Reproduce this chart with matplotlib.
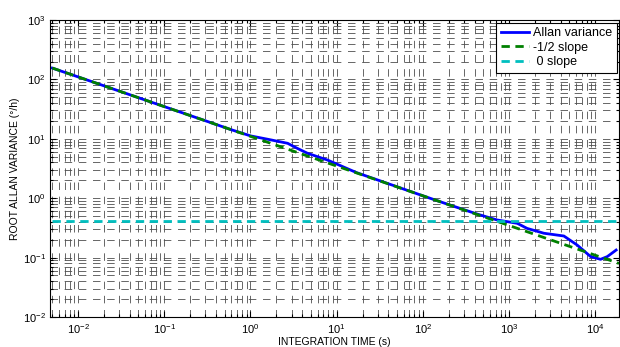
import numpy as np
import matplotlib
matplotlib.use("Agg")
import matplotlib.pyplot as plt
from matplotlib.ticker import LogLocator, NullFormatter

plt.rcParams['font.family'] = ['Liberation Sans', 'DejaVu Sans']
plt.rcParams['mathtext.fontset'] = 'custom'
plt.rcParams['mathtext.rm'] = 'Liberation Sans'
plt.rcParams['mathtext.default'] = 'regular'

# Data
tau = [0.005, 0.01, 0.03, 0.1, 0.3, 0.6, 1.0, 1.6, 2.7, 3.5, 4.6, 7.8, 17, 40,
       100, 200, 430, 730, 1250, 1630, 2550, 4350, 6200, 8900, 11600, 13900, 17600]
allan = [155, 110, 63.5, 34.8, 20.1, 14.2, 11.2, 9.8, 8.4, 6.9, 5.7, 4.4, 2.7, 1.75,
         1.1, 0.78, 0.54, 0.43, 0.378, 0.31, 0.257, 0.231, 0.163, 0.104, 0.0935, 0.104, 0.134]
slope_tau = [0.005, 19000]
slope_coef = 11.0
flat_level = 0.41
labels = ['Allan variance', '-1/2 slope', ' 0 slope']

fig = plt.figure(figsize=(6.2, 3.47), dpi=100)
ax = fig.add_axes([50/620, 30/347, 569/620, 297/347])

ax.plot(tau, allan, color=(0, 0, 1), lw=2, label=labels[0])
st = np.array(slope_tau)
ax.plot(st, slope_coef / np.sqrt(st), color=(0, 0.5, 0), lw=2, ls=(0, (3, 2)), label=labels[1])
ax.plot(st, [flat_level, flat_level], color=(0, 0.75, 0.75), lw=2, ls=(0, (3, 2)), label=labels[2])

ax.set_xscale('log')
ax.set_yscale('log')
ax.set_xlim(0.0047, 19000)
ax.set_ylim(0.01, 1000)

ax.xaxis.set_major_locator(LogLocator(base=10, numticks=20))
ax.xaxis.set_minor_locator(LogLocator(base=10, subs=np.arange(2, 10), numticks=20))
ax.yaxis.set_major_locator(LogLocator(base=10, numticks=20))
ax.yaxis.set_minor_locator(LogLocator(base=10, subs=np.arange(2, 10), numticks=20))
ax.xaxis.set_minor_formatter(NullFormatter())
ax.yaxis.set_minor_formatter(NullFormatter())

ax.grid(True, which='both', color='0.3', ls=(0, (9, 8)), lw=0.6)
ax.set_axisbelow(True)
ax.tick_params(which='both', direction='in', top=True, right=True, labelsize=8, width=0.8)
ax.tick_params(which='major', length=4)
ax.tick_params(which='minor', length=2)
ax.tick_params(axis='x', pad=4)
ax.tick_params(axis='y', pad=3)
for s in ax.spines.values():
    s.set_linewidth(0.8)

ax.set_xlabel('INTEGRATION TIME (s)', fontsize=7.5)
ax.set_ylabel('ROOT ALLAN VARIANCE (°/h)', fontsize=7.5)
ax.xaxis.set_label_coords(0.5, -0.066)
ax.yaxis.set_label_coords(-0.052, 0.5)

leg = ax.legend(loc='upper right', fontsize=9, fancybox=False, framealpha=1,
                edgecolor='black', borderpad=0.35, handlelength=2.3, handletextpad=0.3,
                labelspacing=0.22, borderaxespad=0.2)
leg.get_frame().set_linewidth(0.8)

fig.savefig('out.png', dpi=100)
